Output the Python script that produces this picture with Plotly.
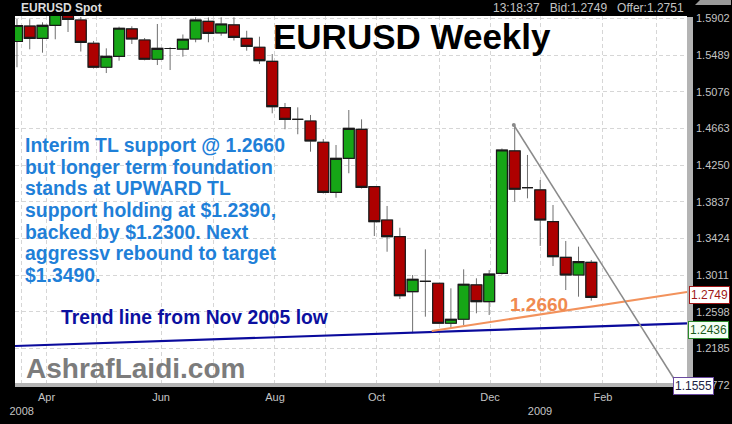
import plotly.graph_objects as go

# ---------------- data ----------------
weeks = ["2008-03-17", "2008-03-24", "2008-03-31", "2008-04-07", "2008-04-14", "2008-04-21",
         "2008-04-28", "2008-05-05", "2008-05-12", "2008-05-19", "2008-05-26", "2008-06-02",
         "2008-06-09", "2008-06-16", "2008-06-23", "2008-06-30", "2008-07-07", "2008-07-14",
         "2008-07-21", "2008-07-28", "2008-08-04", "2008-08-11", "2008-08-18", "2008-08-25",
         "2008-09-01", "2008-09-08", "2008-09-15", "2008-09-22", "2008-09-29", "2008-10-06",
         "2008-10-13", "2008-10-20", "2008-10-27", "2008-11-03", "2008-11-10", "2008-11-17",
         "2008-11-24", "2008-12-01", "2008-12-08", "2008-12-15", "2008-12-22", "2008-12-29",
         "2009-01-05", "2009-01-12", "2009-01-19", "2009-01-26"]

open_ = [1.5641, 1.5815, 1.5677, 1.5823, 1.5975, 1.5883, 1.5621, 1.5351, 1.5474, 1.5782,
         1.5658, 1.5441, 1.5562, 1.5556, 1.5669, 1.5868, 1.5737, 1.5827, 1.5677, 1.5576,
         1.5418, 1.4896, 1.4765, 1.4746, 1.4507, 1.3944, 1.4326, 1.4653, 1.4007, 1.3632,
         1.3444, 1.2825, 1.2942, 1.2920, 1.2470, 1.2515, 1.2901, 1.2713, 1.3032, 1.4409,
         1.3996, 1.3970, 1.3613, 1.3212, 1.3013, 1.3156]
high = [1.5894, 1.5891, 1.5857, 1.5985, 1.6000, 1.5917, 1.5647, 1.5564, 1.5808, 1.5812,
        1.5680, 1.5838, 1.5576, 1.5720, 1.5913, 1.5911, 1.5913, 1.5913, 1.5762, 1.5695,
        1.5500, 1.4949, 1.4900, 1.4814, 1.4544, 1.4476, 1.4870, 1.4765, 1.4015, 1.3790,
        1.3545, 1.3013, 1.3302, 1.2923, 1.2863, 1.3077, 1.2976, 1.3069, 1.4437, 1.4701,
        1.4364, 1.4082, 1.3801, 1.3396, 1.3332, 1.3182]
low = [1.5351, 1.5553, 1.5515, 1.5666, 1.5748, 1.5528, 1.5337, 1.5286, 1.5425, 1.5613,
       1.5429, 1.5376, 1.5320, 1.5470, 1.5632, 1.5632, 1.5706, 1.5652, 1.5537, 1.5388,
       1.4833, 1.4653, 1.4597, 1.4401, 1.3930, 1.3883, 1.4158, 1.3987, 1.3452, 1.3275,
       1.2743, 1.2357, 1.2544, 1.2462, 1.2413, 1.2450, 1.2582, 1.2563, 1.3019, 1.3838,
       1.3876, 1.3340, 1.3114, 1.2844, 1.2769, 1.2724]
close = [1.5821, 1.5677, 1.5823, 1.5955, 1.5891, 1.5632, 1.5351, 1.5474, 1.5790, 1.5669,
         1.5441, 1.5564, 1.5562, 1.5666, 1.5883, 1.5733, 1.5838, 1.5688, 1.5587, 1.5425,
         1.4907, 1.4765, 1.4765, 1.4521, 1.3944, 1.4326, 1.4664, 1.4000, 1.3613, 1.3444,
         1.2780, 1.2965, 1.2942, 1.2470, 1.2515, 1.2909, 1.2713, 1.3024, 1.4420, 1.3978,
         1.3996, 1.3632, 1.3219, 1.3013, 1.3163, 1.2762]

# trend lines (endpoints)
nov2005_x = ["2008-03-15 22:00", "2009-03-19 12:00"]
nov2005_y = [1.2214, 1.2468]
interim_x = ["2008-10-30 12:00", "2009-03-19 12:00"]
interim_y = [1.2383, 1.2821]
down_x = ["2008-12-14 12:00", "2009-03-13 12:00"]
down_y = [1.4701, 1.1809]

# axes
y_ticks = [1.5902, 1.5489, 1.5076, 1.4663, 1.4250, 1.3837, 1.3424, 1.3011, 1.2598, 1.2185, 1.1772]
y_labels = ["1.5902", "1.5489", "1.5076", "1.4663", "1.4250", "1.3837", "1.3424", "1.3011",
            "1.2598", "1.2185", "1.1772"]
x_ticks = ["2008-03-19 14:00", "2008-04-02 05:00", "2008-04-29 21:00", "2008-06-04 00:00",
           "2008-07-02 19:00", "2008-08-05 12:00", "2008-09-02 05:00", "2008-09-30 05:00",
           "2008-11-03 12:00", "2008-12-01 12:00", "2008-12-28 21:00", "2009-02-01 10:00",
           "2009-03-02 23:00"]
x_labels = ["<br>2008", "Apr", "", "Jun", "", "Aug", "", "Oct", "", "Dec", "<br>2009", "Feb", ""]

comment_lines = ["Interim TL support @ 1.2660",
                 "but longer term foundation",
                 "stands at UPWARD TL",
                 "support holding at $1.2390,",
                 "backed by $1.2300. Next",
                 "aggressv rebound to target",
                 "$1.3490."]

# ---------------- layout helpers (pixel -> paper) ----------------
L, R, T, B = 15, 687, 16, 386
W, H = R - L, B - T


def px(xp):
    return (xp - L) / W


def py(yp):
    return (B - yp) / H


NARROW = "Liberation Sans Narrow, Arial Narrow, Liberation Sans, Arial, sans-serif"
ARIAL = "Liberation Sans, Arial, sans-serif"

GREEN = "#16a616"
RED = "#ad0000"

body_hi = [max(o, c) for o, c in zip(open_, close)]
body_lo = [min(o, c) for o, c in zip(open_, close)]

fig = go.Figure()

# wicks
fig.add_trace(go.Candlestick(
    x=weeks, open=open_, high=high, low=low, close=close,
    increasing=dict(line=dict(color="#707070", width=1), fillcolor="rgba(0,0,0,0)"),
    decreasing=dict(line=dict(color="#707070", width=1), fillcolor="rgba(0,0,0,0)"),
    hoverinfo="skip", showlegend=False))
# bodies
fig.add_trace(go.Candlestick(
    x=weeks, open=open_, high=body_hi, low=body_lo, close=close,
    increasing=dict(line=dict(color="#1a1a1a", width=1.2), fillcolor=GREEN),
    decreasing=dict(line=dict(color="#1a1a1a", width=1.2), fillcolor=RED),
    hoverinfo="skip", showlegend=False))

fig.add_trace(go.Scatter(x=nov2005_x, y=nov2005_y, mode="lines",
                         line=dict(color="#0a0a9c", width=2.2), hoverinfo="skip"))
fig.add_trace(go.Scatter(x=interim_x, y=interim_y, mode="lines",
                         line=dict(color="#f2925c", width=2), hoverinfo="skip"))
fig.add_trace(go.Scatter(x=down_x, y=down_y, mode="lines",
                         line=dict(color="#8a8a8a", width=1.5), hoverinfo="skip"))
fig.add_trace(go.Scatter(x=down_x[:1], y=down_y[:1], mode="markers",
                         marker=dict(color="#8a8a8a", size=4), hoverinfo="skip"))

annotations = []
# header
annotations.append(dict(xref="paper", yref="paper", x=px(19), y=py(8), xanchor="left", yanchor="middle",
                        text="<b>EURUSD Spot</b>", showarrow=False,
                        font=dict(family=NARROW, size=12, color="#dcdcdc")))
annotations.append(dict(xref="paper", yref="paper", x=px(686), y=py(8), xanchor="right", yanchor="middle",
                        text="13:18:37\u00a0\u00a0 Bid:1.2749\u00a0\u00a0 Offer:1.2751", showarrow=False,
                        font=dict(family=NARROW, size=12, color="#c4c4c4")))
# title
annotations.append(dict(xref="paper", yref="paper", x=px(412), y=py(37), xanchor="center", yanchor="middle",
                        text="<b>EURUSD Weekly</b>", showarrow=False,
                        font=dict(family=ARIAL, size=35, color="#000000")))
# comment block
for i, line in enumerate(comment_lines):
    annotations.append(dict(xref="paper", yref="paper", x=px(23), y=py(145 + 21.67 * i),
                            xanchor="left", yanchor="middle", text="<b>" + line + "</b>",
                            showarrow=False, font=dict(family=ARIAL, size=19.4, color="#1f80d8")))
annotations.append(dict(xref="paper", yref="paper", x=px(59), y=py(317.5), xanchor="left", yanchor="middle",
                        text="<b>Trend line from Nov 2005 low</b>", showarrow=False,
                        font=dict(family=ARIAL, size=19.3, color="#0c10a0")))
annotations.append(dict(xref="paper", yref="paper", x=px(539), y=py(304), xanchor="center", yanchor="middle",
                        text="<b>1.2660</b>", showarrow=False,
                        font=dict(family=ARIAL, size=19, color="#f08a50")))
annotations.append(dict(xref="paper", yref="paper", x=px(24), y=py(368), xanchor="left", yanchor="middle",
                        text="<b>AshrafLaidi.com</b>", showarrow=False,
                        font=dict(family=ARIAL, size=28, color="#7c7c7c")))
# price tags
annotations.append(dict(xref="paper", yref="paper", x=px(689), y=py(294.5), xanchor="left", yanchor="middle",
                        text="1.2749", showarrow=False, bgcolor="#ffffff", bordercolor="#a01818",
                        borderwidth=1, borderpad=1, font=dict(family=NARROW, size=12, color="#a01818")))
annotations.append(dict(xref="paper", yref="paper", x=px(688), y=py(329.5), xanchor="left", yanchor="middle",
                        text="1.2436", showarrow=False, bgcolor="#f4fff4", bordercolor="#2a8a2a",
                        borderwidth=1, borderpad=1, font=dict(family=NARROW, size=12, color="#1a5a1a")))
annotations.append(dict(xref="paper", yref="paper", x=px(673), y=py(385.5), xanchor="left", yanchor="middle",
                        text="1.1555", showarrow=False, bgcolor="#ffffff", bordercolor="#6a4aa0",
                        borderwidth=1, borderpad=1, font=dict(family=NARROW, size=12, color="#222244")))

shapes = [
    # shadow strips
    dict(type="rect", xref="paper", yref="paper", x0=px(687), x1=px(693), y0=py(387), y1=py(17),
         fillcolor="#b4b4b4", line=dict(width=0), layer="above"),
    dict(type="rect", xref="paper", yref="paper", x0=px(15), x1=px(693), y0=py(387), y1=py(383),
         fillcolor="#b4b4b4", line=dict(width=0), layer="above"),
    # small tab at top-right
    dict(type="path", xref="paper", yref="paper",
         path="M %f %f L %f %f L %f %f L %f %f Z" % (px(695), py(5), px(700), py(0), px(731), py(0), px(731), py(5)),
         fillcolor="#9a9a9a", line=dict(width=0), layer="above"),
]

fig.update_layout(
    width=732, height=424,
    margin=dict(l=L, r=732 - R, t=T, b=424 - B, autoexpand=False),
    paper_bgcolor="#000000", plot_bgcolor="#ffffff",
    showlegend=False, boxgap=0.1, boxgroupgap=0.05,
    annotations=annotations, shapes=shapes,
    xaxis=dict(type="date", range=["2008-03-15 22:00", "2009-03-19 12:00"],
               tickmode="array", tickvals=x_ticks, ticktext=x_labels, automargin=False,
               showgrid=True, gridcolor="#d6d6d6", griddash="4px,3px", gridwidth=1,
               zeroline=False, showline=False, ticks="", ticklabelstandoff=3,
               tickfont=dict(family=NARROW, size=11, color="#c4c4c4"),
               rangeslider=dict(visible=False), fixedrange=True),
    yaxis=dict(side="right", range=[1.17639, 1.59279], automargin=False,
               tickmode="array", tickvals=y_ticks, ticktext=y_labels,
               showgrid=True, gridcolor="#d6d6d6", griddash="4px,3px", gridwidth=1,
               zeroline=False, showline=False, ticks="", ticklabelstandoff=8,
               tickfont=dict(family=NARROW, size=11, color="#c4c4c4"), fixedrange=True),
)

fig.write_html("out.html", config={"displayModeBar": False},
               post_script="document.body.style.margin='0';document.body.style.background='#000';")
